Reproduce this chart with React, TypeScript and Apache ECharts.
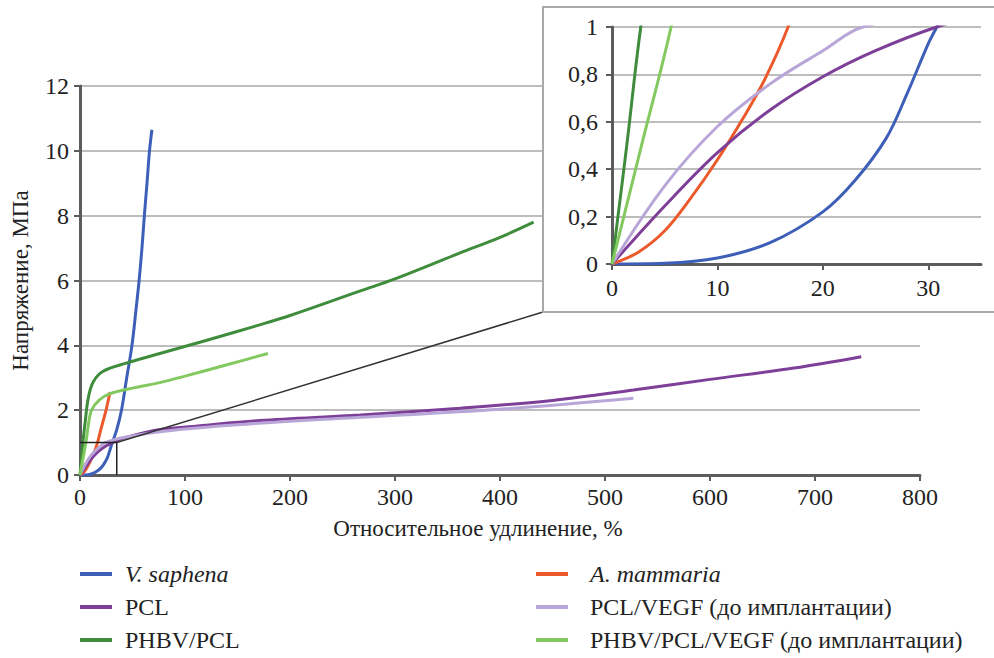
import { useEffect, useRef } from "react";
import * as echarts from "echarts";

// ---- Data (strain %, stress MPa) ----
const V_SAPHENA = [
  [0, 0], [5, 0.003], [10, 0.025], [15, 0.09], [20, 0.22], [23, 0.35], [26, 0.53],
  [28, 0.72], [30, 0.93], [30.8, 1.0], [35, 1.4], [39.5, 2], [44.5, 3], [49.5, 4],
  [53, 5], [56.3, 6], [59, 7], [61.3, 8], [63.8, 9], [66.2, 10], [68.5, 10.65],
];
const A_MAMMARIA = [
  [0, 0], [2.5, 0.05], [5, 0.14], [7.5, 0.28], [10, 0.44], [12.5, 0.62], [14.5, 0.78],
  [16.7, 1.0], [20, 1.42], [24.8, 2.0], [28.6, 2.56],
];
const PCL = [
  [0, 0], [5, 0.245], [10, 0.47], [15, 0.65], [20, 0.79], [25, 0.9], [30.8, 1.0],
  [40, 1.12], [60, 1.3], [80, 1.42], [108, 1.5], [171, 1.68], [267, 1.85], [362, 2.06],
  [450, 2.3], [527, 2.62], [600, 2.95], [680, 3.3], [744, 3.65],
];
const PCL_VEGF = [
  [0, 0], [5, 0.33], [10, 0.58], [15, 0.76], [20, 0.9], [23.8, 1.0], [40, 1.15],
  [80, 1.35], [150, 1.55], [250, 1.75], [400, 2.03], [527, 2.37],
];
const PHBV_PCL = [
  [0, 0], [1.4, 0.5], [2.73, 1.0], [4.8, 1.6], [8, 2.4], [12.7, 2.88], [22, 3.2], [44, 3.45],
  [76, 3.75], [120, 4.15], [171, 4.63], [200, 4.92], [267, 5.68], [300, 6.05], [362, 6.85],
  [400, 7.33], [432, 7.8],
];
const PHBV_PCL_VEGF = [
  [0, 0], [2.8, 0.5], [5.6, 1.0], [8, 1.55], [11, 2.0], [18, 2.3], [28, 2.5], [50, 2.68],
  [76, 2.85], [100, 3.05], [140, 3.4], [179, 3.75],
];

const SERIES_NAMES = [
  "V. saphena",
  "A. mammaria",
  "PCL",
  "PCL/VEGF (до имплантации)",
  "PHBV/PCL",
  "PHBV/PCL/VEGF (до имплантации)",
];
const SERIES_DATA = [V_SAPHENA, A_MAMMARIA, PCL, PCL_VEGF, PHBV_PCL, PHBV_PCL_VEGF];
const LEGEND_COL1 = ["V. saphena", "PCL", "PHBV/PCL"];
const LEGEND_COL2 = ["A. mammaria", "PCL/VEGF (до имплантации)", "PHBV/PCL/VEGF (до имплантации)"];
const ITALIC_NAMES = ["V. saphena", "A. mammaria"];

const X_TITLE = "Относительное удлинение, %";
const Y_TITLE = "Напряжение, МПа";
const MAIN_X_MAX = 800;
const MAIN_X_STEP = 100;
const MAIN_Y_MAX = 12;
const MAIN_Y_STEP = 2;
const INSET_X_MAX = 35;
const INSET_X_STEP = 10;
const INSET_Y_MAX = 1;
const INSET_Y_STEP = 0.2;

// ---- Styles ----
const COLORS = ["#3d5fb8", "#ec5a2c", "#7d3f98", "#b9a6d8", "#3f8c3c", "#82c95f"];
const FONT = "Liberation Serif";
const TICK_SIZE = 24;
const TITLE_SIZE = 23;
const LEGEND_SIZE = 24;
const TEXT_COLOR = "#222";
const AXIS_COLOR = "#5c5c5c";
const GRID_COLOR = "#bdbdbd";

const INSET_BOX = { x: 543, y: 7, w: 470, h: 305 };

export default function App() {
  const ref = useRef<HTMLDivElement>(null);

  useEffect(() => {
    if (!ref.current) return;
    const chart = echarts.init(ref.current, undefined, { renderer: "svg" });

    const axisLine = { show: true, lineStyle: { color: AXIS_COLOR, width: 3 } };
    const axisTick = { show: true, length: 6, lineStyle: { color: AXIS_COLOR, width: 2 } };
    const tickFont = { fontFamily: FONT, fontSize: TICK_SIZE, color: TEXT_COLOR };
    const titleFont = { fontFamily: FONT, fontSize: TITLE_SIZE, color: TEXT_COLOR };

    const legendFormatter = (name: string) =>
      ITALIC_NAMES.includes(name) ? `{i|${name}}` : `{n|${name}}`;
    const rich = (pad: number) => ({
      i: {
        fontFamily: FONT,
        fontSize: LEGEND_SIZE,
        color: TEXT_COLOR,
        fontStyle: "italic",
        padding: [0, 0, 0, pad],
      },
      n: { fontFamily: FONT, fontSize: LEGEND_SIZE, color: TEXT_COLOR, padding: [0, 0, 0, pad] },
    });

    const series: any[] = [];
    [0, 1].forEach((g) => {
      SERIES_DATA.forEach((d, i) => {
        series.push({
          name: SERIES_NAMES[i],
          type: "line",
          xAxisIndex: g,
          yAxisIndex: g,
          data: d,
          showSymbol: false,
          smooth: 0.35,
          clip: true,
          z: g === 0 ? 2 : 12,
          lineStyle: { color: COLORS[i], width: 3 },
          itemStyle: { color: COLORS[i] },
        });
      });
    });
    series.push({
      name: "zoomBox",
      type: "line",
      xAxisIndex: 0,
      yAxisIndex: 0,
      data: [
        [0, INSET_Y_MAX],
        [INSET_X_MAX, INSET_Y_MAX],
        [INSET_X_MAX, 0],
      ],
      showSymbol: false,
      silent: true,
      z: 3,
      lineStyle: { color: "#222", width: 1.5 },
      itemStyle: { color: "#222" },
    });

    const insetRect = {
      id: "insetBox",
      type: "rect",
      z: 10,
      silent: true,
      shape: { x: INSET_BOX.x, y: INSET_BOX.y, width: INSET_BOX.w, height: INSET_BOX.h },
      style: { fill: "#fff", stroke: "#a9a9a9", lineWidth: 2 },
    };

    const legendCommon = {
      orient: "vertical",
      top: 562,
      height: 130,
      itemWidth: 32,
      itemHeight: 4,
      itemGap: 9,
      icon: "rect",
      padding: 0,
      formatter: legendFormatter,
      selectedMode: false,
    };

    chart.setOption({
      animation: false,
      backgroundColor: "#fff",
      textStyle: { fontFamily: FONT, color: TEXT_COLOR },
      grid: [
        { left: 80, top: 86, right: 74, bottom: 183 },
        { left: 612, top: 27, right: 13, bottom: 394 },
      ],
      xAxis: [
        {
          type: "value",
          gridIndex: 0,
          min: 0,
          max: MAIN_X_MAX,
          interval: MAIN_X_STEP,
          axisLine,
          axisTick,
          splitLine: { show: false },
          axisLabel: { ...tickFont, margin: 10 },
          name: X_TITLE,
          nameLocation: "middle",
          nameGap: 42,
          nameTextStyle: { ...titleFont, padding: [0, 44, 0, 0] },
        },
        {
          type: "value",
          gridIndex: 1,
          z: 11,
          min: 0,
          max: INSET_X_MAX,
          interval: INSET_X_STEP,
          axisLine,
          axisTick,
          splitLine: { show: false },
          axisLabel: { ...tickFont, margin: 12, showMaxLabel: false },
        },
      ],
      yAxis: [
        {
          type: "value",
          gridIndex: 0,
          min: 0,
          max: MAIN_Y_MAX,
          interval: MAIN_Y_STEP,
          axisLine,
          axisTick,
          splitLine: { show: true, lineStyle: { color: GRID_COLOR, width: 2 } },
          axisLabel: { ...tickFont, margin: 11 },
          name: Y_TITLE,
          nameLocation: "middle",
          nameGap: 48,
          nameTextStyle: titleFont,
        },
        {
          type: "value",
          gridIndex: 1,
          z: 11,
          min: 0,
          max: INSET_Y_MAX,
          interval: INSET_Y_STEP,
          axisLine,
          axisTick,
          splitLine: { show: true, lineStyle: { color: GRID_COLOR, width: 2 } },
          axisLabel: {
            ...tickFont,
            margin: 14,
            formatter: (v: number) =>
              v === 0 || v === 1 ? String(v) : v.toFixed(1).replace(".", ","),
          },
        },
      ],
      legend: [
        {
          ...legendCommon,
          data: LEGEND_COL1,
          left: 80,
          textStyle: { fontFamily: FONT, fontSize: LEGEND_SIZE, color: TEXT_COLOR, rich: rich(8) },
        },
        {
          ...legendCommon,
          data: LEGEND_COL2,
          left: 536,
          textStyle: { fontFamily: FONT, fontSize: LEGEND_SIZE, color: TEXT_COLOR, rich: rich(17) },
        },
      ],
      graphic: [insetRect],
      series,
    });

    const p = chart.convertToPixel({ gridIndex: 0 }, [INSET_X_MAX, INSET_Y_MAX]) as number[];
    chart.setOption({
      graphic: [
        insetRect,
        {
          id: "connector",
          type: "line",
          z: 9,
          silent: true,
          shape: { x1: p[0], y1: p[1], x2: INSET_BOX.x, y2: INSET_BOX.y + INSET_BOX.h },
          style: { stroke: "#333", lineWidth: 1.5 },
        },
      ],
    });

    return () => chart.dispose();
  }, []);

  return (
    <div
      ref={ref}
      style={{ position: "fixed", left: 0, top: 0, width: 994, height: 658, background: "#fff" }}
    />
  );
}
